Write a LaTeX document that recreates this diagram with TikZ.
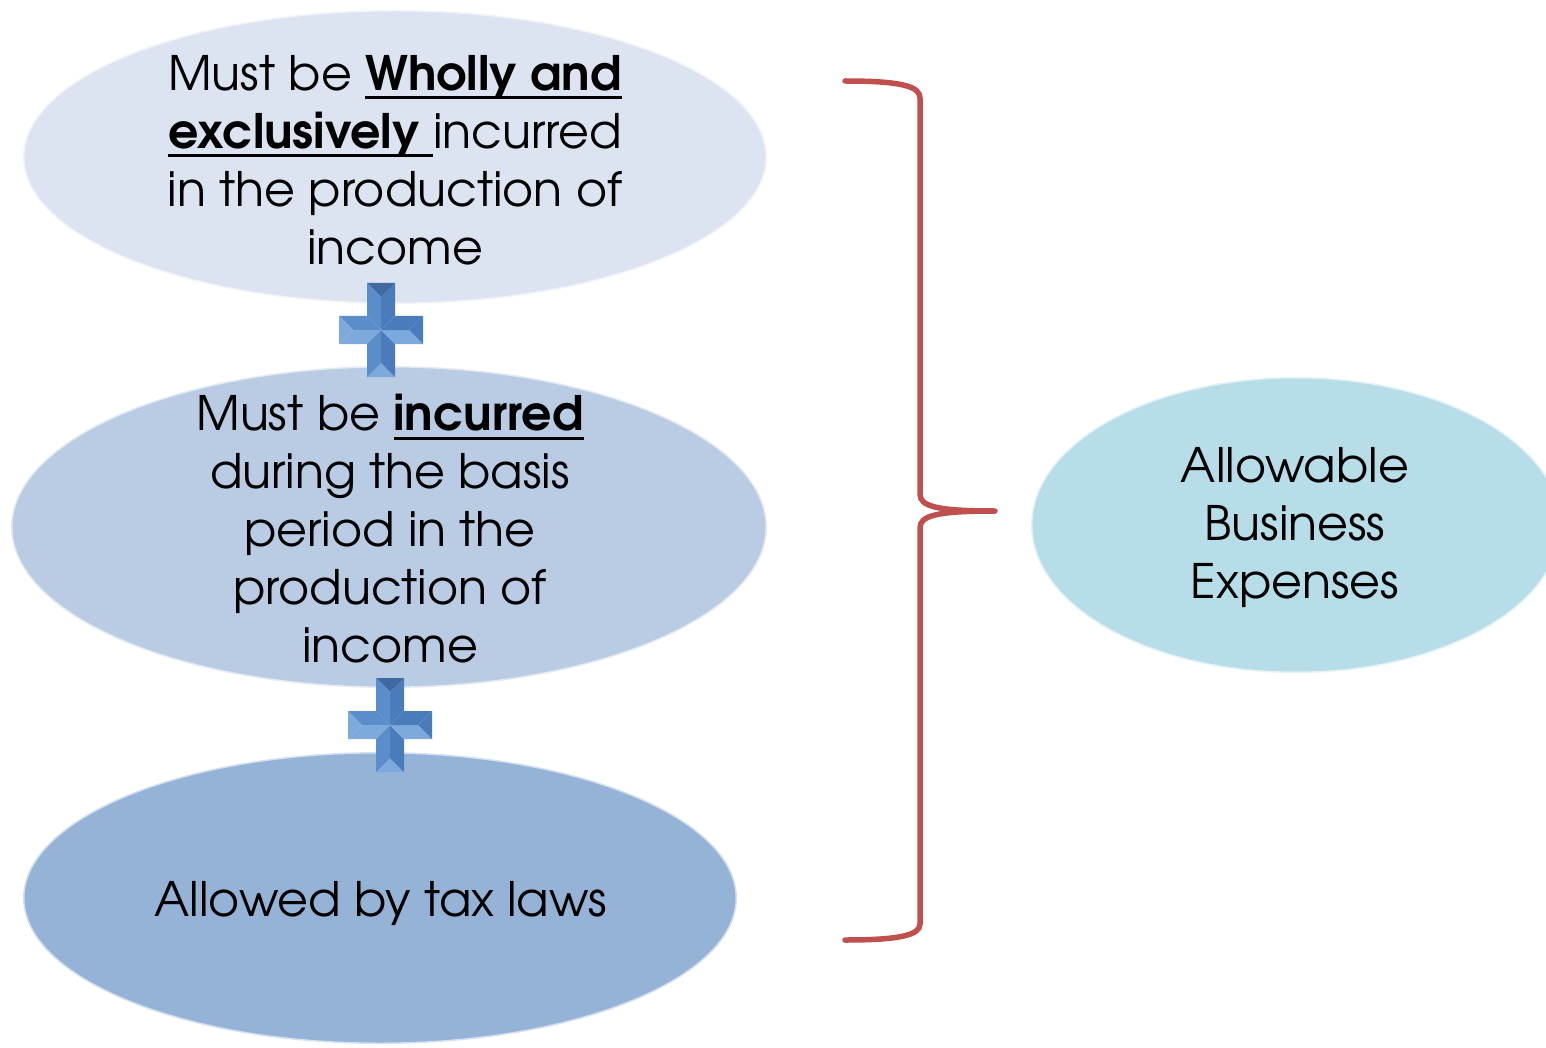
\documentclass[tikz,border=0pt]{standalone}
\usepackage{fontspec}
\setmainfont{texgyreadventor}[Extension=.otf, UprightFont=*-regular, BoldFont=*-bold]
\usetikzlibrary{shapes.geometric}
\definecolor{eA}{HTML}{DCE3F1}
\definecolor{eB}{HTML}{B9CCE4}
\definecolor{eC}{HTML}{95B3D7}
\definecolor{eD}{HTML}{B6DDE8}
\definecolor{brace}{HTML}{C0504D}
\definecolor{plL}{HTML}{7EA9DC}
\definecolor{plM}{HTML}{5B8DCB}
\definecolor{plD}{HTML}{4A7CBC}
\newsavebox{\ulbox}
\newcommand{\ulx}[1]{\sbox{\ulbox}{#1}\rlap{\rule[-9pt]{\wd\ulbox}{2.8pt}}\usebox{\ulbox}}
\tikzset{
  oval/.style={ellipse, inner sep=0pt, draw=white, draw opacity=0.6, line width=3pt},
  txt/.style={align=center, font=\fontsize{47.5}{58}\selectfont, text=black, inner sep=0pt},
}
\newcommand{\plussign}[3]{%
  \begin{scope}[shift={(#2,#3)}]
    \coordinate (#1) at (0,0);
    \def\w{14}\def\lv{47}\def\lh{42}
    \fill[plL] (-\w,\lv) -- (\w,\lv) -- (0,\lv-\w) -- cycle;
    \fill[plD] (\w,\lv) -- (\w,\w) -- (0,0) -- (0,\lv-\w) -- cycle;
    \fill[plL] (\w,\w) -- (\lh,\w) -- (\lh-\w,0) -- (0,0) -- cycle;
    \fill[plD] (\lh,\w) -- (\lh,-\w) -- (\lh-\w,0) -- cycle;
    \fill[plD] (\lh,-\w) -- (\w,-\w) -- (0,0) -- (\lh-\w,0) -- cycle;
    \fill[plD] (\w,-\w) -- (\w,-\lv) -- (0,-\lv+\w) -- (0,0) -- cycle;
    \fill[plD!85!black] (\w,-\lv) -- (-\w,-\lv) -- (0,-\lv+\w) -- cycle;
    \fill[plM] (-\w,-\lv) -- (-\w,-\w) -- (0,0) -- (0,-\lv+\w) -- cycle;
    \fill[plM] (-\w,-\w) -- (-\lh,-\w) -- (-\lh+\w,0) -- (0,0) -- cycle;
    \fill[plL] (-\lh,-\w) -- (-\lh,\w) -- (-\lh+\w,0) -- cycle;
    \fill[plL] (-\lh,\w) -- (-\w,\w) -- (0,0) -- (-\lh+\w,0) -- cycle;
    \fill[plM] (-\w,\w) -- (-\w,\lv) -- (0,\lv-\w) -- (0,0) -- cycle;
  \end{scope}}
\begin{document}
\begin{tikzpicture}[x=1pt,y=-1pt]
\useasboundingbox (0,0) rectangle (1546,1048);
\fill[white] (0,0) rectangle (1546,1048);

\node (e1) [oval, fill=eA, minimum width=744pt, minimum height=294pt] at (395,157) {};
\node (e2) [oval, fill=eB, minimum width=756pt, minimum height=322pt] at (389,527) {};
\node (e3) [oval, fill=eC, minimum width=714pt, minimum height=292pt] at (380,898) {};
\node (e4) [oval, fill=eD, minimum width=530pt, minimum height=296pt] at (1296,525) {};

\node (t1) [txt] at (395,160) {Must be \ulx{\textbf{Wholly and}}\\\ulx{\textbf{exclusively }}incurred\\in the production of\\income};
\node (t2) [txt] at (390,529) {Must be \ulx{\textbf{incurred}}\\during the basis\\period in the\\production of\\income};
\node (t3) [txt] at (381,903) {Allowed by tax laws};
\node (t4) [txt] at (1295,528) {Allowable\\Business\\Expenses};

\plussign{p1}{381}{330}
\plussign{p2}{390}{725}

\coordinate (bt) at (845,81);
\coordinate (bm) at (995,511);
\coordinate (bb) at (845,940);
\draw[brace, line width=5.5pt, line cap=round, line join=round]
  (bt) .. controls (900,81) and (920,86) .. (920,98) -- (920,494)
  .. controls (920,506) and (935,511) .. (bm)
  .. controls (935,511) and (920,516) .. (920,528) -- (920,924)
  .. controls (920,935) and (900,940) .. (bb);
\end{tikzpicture}
\end{document}
